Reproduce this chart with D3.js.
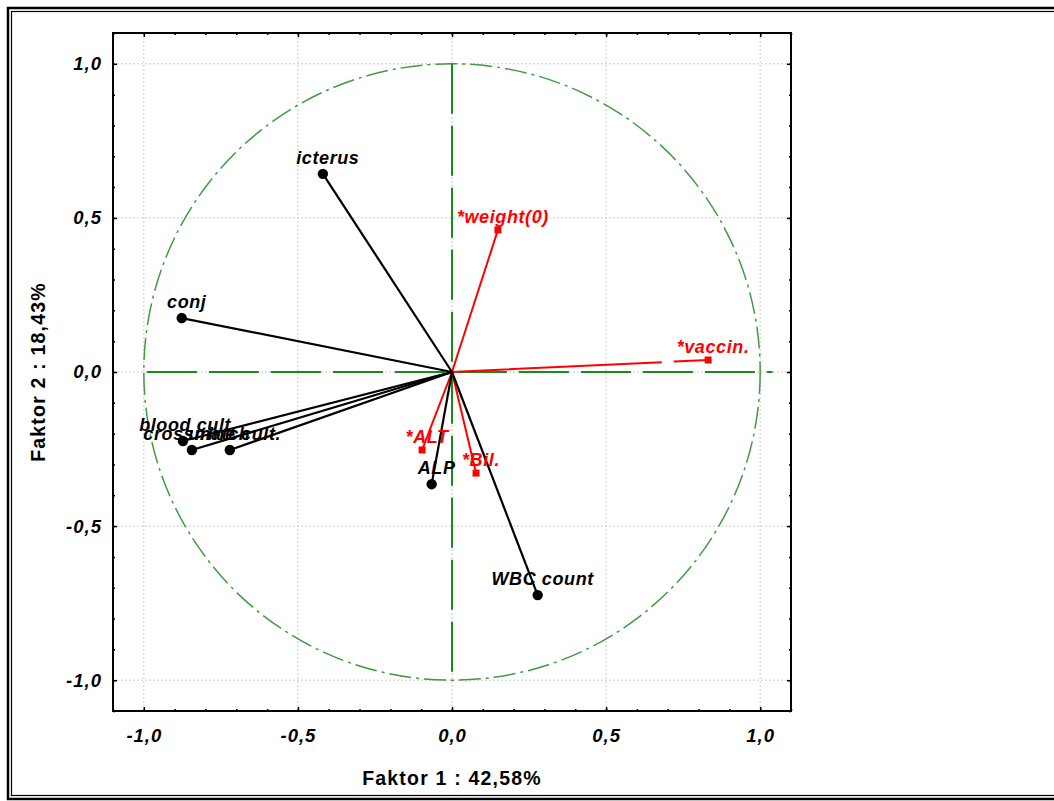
<!DOCTYPE html>
<html>
<head>
<meta charset="utf-8">
<script src="https://cdn.jsdelivr.net/npm/d3@7"></script>
<style>
  body { margin: 0; background: #fff; }
  svg { display: block; font-family: "Liberation Sans", Arial, sans-serif; }
  .tick text { font-size: 18.5px; font-weight: bold; font-style: italic; letter-spacing: 1px; fill: #000; }
</style>
</head>
<body>
<svg id="chart"></svg>
<script>
// active variables (black)
const actNames = ['icterus', 'conj', 'blood cult.', 'crossmatch', 'urine cult.', 'ALP', 'WBC count'];
const actX = [-0.419, -0.877, -0.873, -0.844, -0.721, -0.066, 0.278];
const actY = [0.643, 0.175, -0.224, -0.253, -0.253, -0.364, -0.724];

// supplementary variables (red)
const supNames = ['*weight(0)', '*vaccin.', '*ALT', '*Bil.'];
const supX = [0.149, 0.831, -0.097, 0.078];
const supY = [0.461, 0.039, -0.253, -0.328];

const majorTicks = [-1.0, -0.5, 0.0, 0.5, 1.0];
const xTitle = 'Faktor 1 : 42,58%';
const yTitle = 'Faktor 2 : 18,43%';

const width = 1054, height = 801;
const margin = {top: 33, right: 263, bottom: 90, left: 113};
const innerW = width - margin.left - margin.right;
const innerH = height - margin.top - margin.bottom;

const svg = d3.select('#chart').attr('width', width).attr('height', height);

// outer double frame (right side runs off the picture)
svg.append('rect').attr('x', 8).attr('y', 8).attr('width', 1100).attr('height', 791)
  .attr('fill', 'none').attr('stroke', '#000').attr('stroke-width', 2.5);
svg.append('rect').attr('x', 11.5).attr('y', 11.5).attr('width', 1100).attr('height', 784)
  .attr('fill', 'none').attr('stroke', '#000').attr('stroke-width', 1.2);

const chart = svg.append('g').attr('transform', `translate(${margin.left},${margin.top})`);

const x = d3.scaleLinear().domain([-1.1, 1.1]).range([0, innerW]);
const y = d3.scaleLinear().domain([-1.1, 1.1]).range([innerH, 0]);

const loc = d3.formatLocale({decimal: ',', thousands: '.', grouping: [3], currency: ['', ''], minus: '-'});
const fmt = loc.format('.1f');
const minorTicks = d3.range(-11, 12).map(d => d / 10);

// grid
chart.append('g').selectAll('line').data(majorTicks).join('line')
  .attr('x1', d => x(d)).attr('x2', d => x(d)).attr('y1', 0).attr('y2', innerH)
  .attr('stroke', '#c8c8c8').attr('stroke-dasharray', '2,2');
chart.append('g').selectAll('line').data(majorTicks).join('line')
  .attr('y1', d => y(d)).attr('y2', d => y(d)).attr('x1', 0).attr('x2', innerW)
  .attr('stroke', '#c8c8c8').attr('stroke-dasharray', '2,2');

// axes: major (labelled) and minor ticks, inward on all sides
function addAxis(axisFn, scale, transform, ticks, size, labels, pad) {
  const a = axisFn(scale).tickValues(ticks).tickSize(-size).tickSizeOuter(0)
    .tickPadding(pad).tickFormat(labels ? fmt : '');
  const g = chart.append('g').attr('transform', transform).call(a);
  g.select('.domain').remove();
  g.selectAll('.tick line').attr('stroke', '#000').attr('stroke-width', 1.5);
  return g;
}
addAxis(d3.axisBottom, x, `translate(0,${innerH})`, majorTicks, 4, true, 18);
addAxis(d3.axisBottom, x, `translate(0,${innerH})`, minorTicks, 2, false, 0);
addAxis(d3.axisTop, x, 'translate(0,0)', majorTicks, 4, false, 0);
addAxis(d3.axisTop, x, 'translate(0,0)', minorTicks, 2, false, 0);
addAxis(d3.axisLeft, y, 'translate(0,0)', majorTicks, 4, true, 11);
addAxis(d3.axisLeft, y, 'translate(0,0)', minorTicks, 2, false, 0);
addAxis(d3.axisRight, y, `translate(${innerW},0)`, majorTicks, 4, false, 0);
addAxis(d3.axisRight, y, `translate(${innerW},0)`, minorTicks, 2, false, 0);

// unit circle
chart.append('circle').attr('cx', x(0)).attr('cy', y(0)).attr('r', x(1) - x(0))
  .attr('fill', 'none').attr('stroke', '#3f9c3f').attr('stroke-width', 1.5)
  .attr('stroke-dasharray', '22,5,3,5');

// axes through origin
chart.append('line').attr('x1', x(-0.99)).attr('x2', x(1.04)).attr('y1', y(0)).attr('y2', y(0))
  .attr('stroke', '#1a8a1a').attr('stroke-width', 2).attr('stroke-dasharray', '50,12');
chart.append('line').attr('x1', x(0)).attr('x2', x(0)).attr('y1', y(1)).attr('y2', y(-1.01))
  .attr('stroke', '#1a8a1a').attr('stroke-width', 2).attr('stroke-dasharray', '50,12');

const act = actNames.map((n, i) => ({name: n, x: actX[i], y: actY[i]}));
const sup = supNames.map((n, i) => ({name: n, x: supX[i], y: supY[i]}));

// supplementary vectors
chart.append('g').selectAll('line').data(sup).join('line')
  .attr('x1', x(0)).attr('y1', y(0)).attr('x2', d => x(d.x)).attr('y2', d => y(d.y))
  .attr('stroke', '#ff0000').attr('stroke-width', 2).attr('stroke-dasharray', '210,12');
chart.append('g').selectAll('rect').data(sup).join('rect')
  .attr('x', d => x(d.x) - 3.5).attr('y', d => y(d.y) - 3.5).attr('width', 7).attr('height', 7)
  .attr('fill', '#ff0000');

// active vectors
chart.append('g').selectAll('line').data(act).join('line')
  .attr('x1', x(0)).attr('y1', y(0)).attr('x2', d => x(d.x)).attr('y2', d => y(d.y))
  .attr('stroke', '#000').attr('stroke-width', 2.2);
chart.append('g').selectAll('circle').data(act).join('circle')
  .attr('cx', d => x(d.x)).attr('cy', d => y(d.y)).attr('r', 5.2).attr('fill', '#000');

// labels
const lab = (sel, color, off) => sel
  .attr('x', d => x(d.x) + 5).attr('y', d => y(d.y) - off)
  .attr('text-anchor', 'middle').attr('fill', color)
  .style('font-size', '18px').style('font-weight', 'bold').style('font-style', 'italic')
  .style('letter-spacing', '0.6px').text(d => d.name);
lab(chart.append('g').selectAll('text').data(act).join('text'), '#000', 10);
lab(chart.append('g').selectAll('text').data(sup).join('text'), '#ff0000', 7);

// frame
chart.append('rect').attr('width', innerW).attr('height', innerH)
  .attr('fill', 'none').attr('stroke', '#000').attr('stroke-width', 2);

// axis titles
svg.append('text').attr('x', margin.left + innerW / 2).attr('y', 785)
  .attr('text-anchor', 'middle').style('font-size', '19.5px').style('font-weight', 'bold')
  .style('letter-spacing', '1.2px').text(xTitle);
svg.append('text').attr('transform', `translate(45,${margin.top + innerH / 2}) rotate(-90)`)
  .attr('text-anchor', 'middle').style('font-size', '19.5px').style('font-weight', 'bold')
  .style('letter-spacing', '1.2px').text(yTitle);
</script>
</body>
</html>
